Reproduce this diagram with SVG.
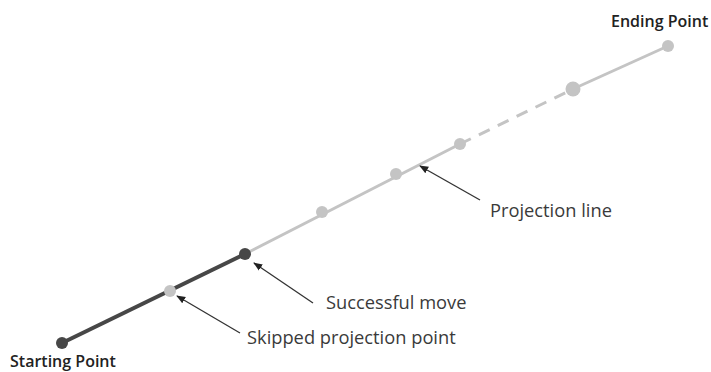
<svg xmlns="http://www.w3.org/2000/svg" width="711" height="372" viewBox="0 0 711 372">
<style>
.lbl{font-family:"Open Sans",Lato,sans-serif;font-size:18.3px;fill:#3a3a3a}
.end{font-family:"Open Sans",Lato,sans-serif;font-size:16px;font-weight:600;fill:#222}
.dark{fill:#474747}
.light{fill:#c4c4c4}
.ptr{stroke:#333;stroke-width:1.3;fill:none;marker-end:url(#ah)}
</style>
<defs>
<marker id="ah" viewBox="0 0 10 10" refX="9" refY="5" markerWidth="7" markerHeight="7" orient="auto">
<path d="M0,1 L10,5 L0,9 z" fill="#222"/>
</marker>
</defs>
<rect width="711" height="372" fill="#fff"/>
<g id="connectors">
<line x1="245" y1="254" x2="460" y2="144" stroke="#c4c4c4" stroke-width="3"/>
<line x1="460" y1="144" x2="573" y2="89" stroke="#c4c4c4" stroke-width="3" stroke-dasharray="12,9"/>
<line x1="573" y1="89" x2="668" y2="46" stroke="#c4c4c4" stroke-width="3"/>
<line x1="62" y1="343" x2="245" y2="254" stroke="#474747" stroke-width="4"/>
<path class="ptr" d="M240,333 L177,296"/>
<path class="ptr" d="M313,303 L254,263"/>
<path class="ptr" d="M480,200 L420,166"/>
</g>
<g id="start"><circle class="dark" cx="62" cy="343" r="6"/><text class="end" x="10" y="367">Starting Point</text></g>
<g id="skipped"><circle class="light" cx="170" cy="291" r="6"/><text class="lbl" x="247" y="344">Skipped projection point</text></g>
<g id="success"><circle class="dark" cx="245" cy="254" r="6"/><text class="lbl" x="326" y="309">Successful move</text></g>
<g id="p1"><circle class="light" cx="322" cy="212" r="6"/></g>
<g id="p2"><circle class="light" cx="396" cy="174" r="6"/></g>
<g id="p3"><circle class="light" cx="460" cy="144" r="6"/></g>
<g id="p4"><circle class="light" cx="573" cy="89" r="7.5"/></g>
<g id="endp"><circle class="light" cx="668" cy="46" r="6"/><text class="end" x="611" y="27">Ending Point</text></g>
<g id="projlabel"><text class="lbl" x="490" y="217">Projection line</text></g>
</svg>
